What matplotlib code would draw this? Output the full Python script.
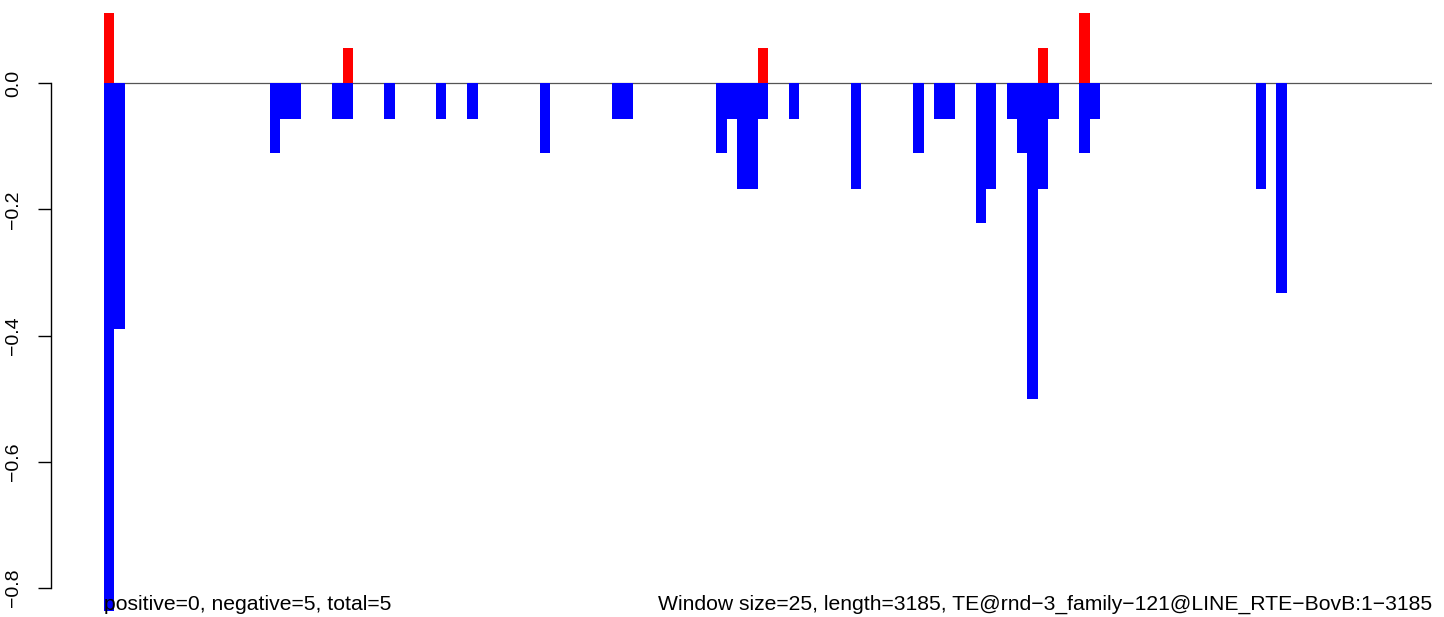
import matplotlib
matplotlib.use("Agg")
import matplotlib.pyplot as plt

# window counts / labels
n_windows = 128
pos_windows = [0, 23, 63, 90, 94]
pos_values = [0.111, 0.056, 0.056, 0.056, 0.111]
neg_windows = [0, 1, 16, 17, 18, 22, 23, 27, 32, 35, 42, 49, 50, 59, 60, 61, 62, 63,
               66, 72, 78, 80, 81, 84, 85, 87, 88, 89, 90, 91, 94, 95, 111, 113]
neg_values = [-0.837, -0.389, -0.111, -0.056, -0.056, -0.056, -0.056, -0.056, -0.056,
              -0.056, -0.111, -0.056, -0.056, -0.111, -0.056, -0.167, -0.167, -0.056,
              -0.056, -0.167, -0.111, -0.056, -0.056, -0.222, -0.167, -0.056, -0.111,
              -0.5, -0.167, -0.056, -0.111, -0.056, -0.167, -0.333]
y_ticks = [0.0, -0.2, -0.4, -0.6, -0.8]
left_note = "positive=0, negative=5, total=5"
right_note = "Window size=25, length=3185, TE@rnd\u22123_family\u2212121@LINE_RTE\u2212BovB:1\u22123185"

plt.rcParams['font.family'] = ['Liberation Sans', 'DejaVu Sans']

W, H = 1444, 617
fig = plt.figure(figsize=(W / 100, H / 100), dpi=100)

# axes placement in pixels: bars 104..1432, y from 0.12 down to -0.84
px_per_unit = 630.5
y0 = 83.3
ymax, ymin = 0.12, -0.84
top_px = y0 - ymax * px_per_unit
bot_px = y0 - ymin * px_per_unit
ax = fig.add_axes([104 / W, (H - bot_px) / H, 1328 / W, (bot_px - top_px) / H])
ax.set_xlim(0, n_windows)
ax.set_ylim(ymin, ymax)

ax.axhline(0, color='#555555', linewidth=0.9, zorder=1)
ax.bar(pos_windows, pos_values, width=1, align='edge', color='#FF0000', linewidth=0, zorder=2)
ax.bar(neg_windows, neg_values, width=1, align='edge', color='#0000FF', linewidth=0, zorder=2)

# R style y axis
for s in ['top', 'right', 'bottom']:
    ax.spines[s].set_visible(False)
ax.spines['left'].set_position(('outward', (104 - 50.7) * 0.72))
ax.spines['left'].set_bounds(-0.8, 0.0)
ax.spines['left'].set_linewidth(1.0)
ax.set_xticks([])
ax.set_yticks(y_ticks)
ax.set_yticklabels([("%.1f" % t).replace('-', '\u2212') for t in y_ticks],
                   rotation=90, va='center', fontsize=14)
ax.tick_params(axis='y', length=9.6, width=1.0, pad=10.8)

fig.text(104 / W, (H - 609.5) / H, left_note, ha='left', va='baseline', fontsize=15.2)
fig.text(1432 / W, (H - 609.5) / H, right_note, ha='right', va='baseline', fontsize=15.2)

fig.savefig("out.png", dpi=100)
